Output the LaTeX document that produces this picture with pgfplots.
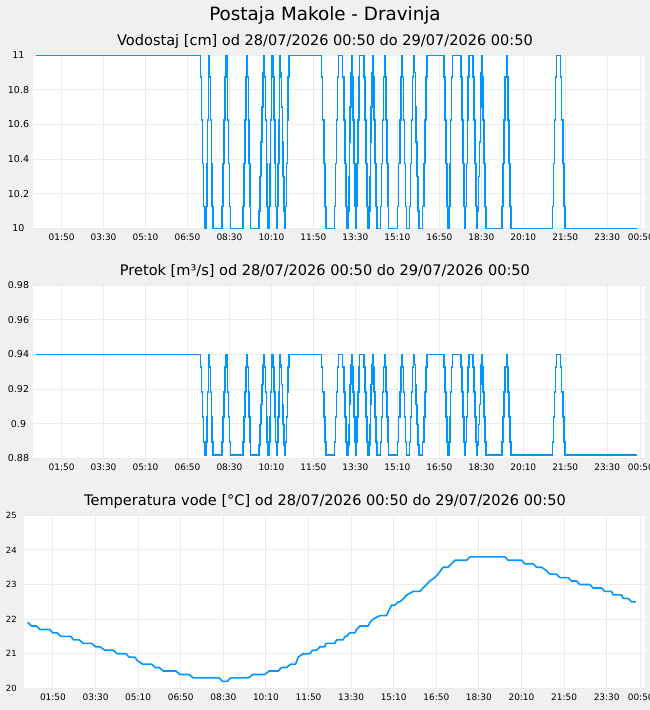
\documentclass[border=0pt]{standalone}
\usepackage{pgfplots}
\pgfplotsset{compat=1.18}
\usepackage{pgfplotstable}
\usepackage{fontspec}
\setmainfont{DejaVu Sans}
\definecolor{bgc}{RGB}{240,240,240}
\definecolor{gridc}{RGB}{235,235,235}
\definecolor{linec}{RGB}{0,150,255}

% time in minutes after 28/07/2026 00:50; h = Vodostaj [cm]; q = Pretok [m3/s]
\pgfplotstableread{
t h q
0 11 0.940
391.0 10.875 0.9328
393.6 10.625 0.9183
396.1 10.375 0.9038
398.7 10.125 0.8893
401.2 10 0.882
404.5 10.125 0.8893
406.3 10.375 0.9038
408.1 10.625 0.9183
409.8 10.875 0.9328
411.6 11 0.940
412.4 10.875 0.9328
414.6 10.625 0.9183
416.8 10.375 0.9038
419.0 10.125 0.8893
421.2 10 0.882
442.6 10.125 0.8893
445.0 10.375 0.9038
447.4 10.625 0.9183
449.7 10.875 0.9328
452.1 11 0.940
453.6 10.875 0.9328
455.8 10.625 0.9183
458.0 10.375 0.9038
460.2 10.125 0.8893
462.4 10 0.882
491.7 10.125 0.8893
494.3 10.375 0.9038
496.9 10.625 0.9183
499.6 10.875 0.9328
502.2 11 0.940
502.9 10.875 0.9328
504.9 10.625 0.9183
506.8 10.375 0.9038
508.8 10.125 0.8893
510.7 10 0.882
530.7 10.1 0.8878
532.9 10.3 0.8994
535.1 10.5 0.911
537.3 10.7 0.9226
539.5 10.9 0.9342
541.7 11 0.940
543.3 10.875 0.9328
545.5 10.625 0.9183
547.7 10.375 0.9038
549.9 10.125 0.8893
552.1 10 0.882
554.5 10.125 0.8893
556.3 10.375 0.9038
558.1 10.625 0.9183
559.9 10.875 0.9328
561.7 11 0.940
564.1 10.875 0.9328
566.1 10.625 0.9183
568.0 10.375 0.9038
570.0 10.125 0.8893
571.9 10 0.882
574.3 10.125 0.8893
575.9 10.375 0.9038
577.5 10.625 0.9183
579.1 10.875 0.9328
580.7 11 0.940
582.2 10.9 0.9342
584.1 10.7 0.9226
586.0 10.5 0.911
587.9 10.3 0.8994
589.8 10.1 0.8878
591.7 10 0.882
593.3 10.125 0.8893
595.5 10.375 0.9038
597.8 10.625 0.9183
600.0 10.875 0.9328
602.2 11 0.940
679.1 10.875 0.9328
681.9 10.625 0.9183
684.7 10.375 0.9038
687.5 10.125 0.8893
690.3 10 0.882
710.7 10.125 0.8893
713.1 10.375 0.9038
715.5 10.625 0.9183
717.9 10.875 0.9328
720.3 11 0.940
729.8 10.875 0.9328
732.4 10.625 0.9183
735.1 10.375 0.9038
737.7 10.125 0.8893
740.3 10 0.882
743.4 10.1 0.8878
744.8 10.3 0.8994
746.2 10.5 0.911
747.7 10.7 0.9226
749.1 10.9 0.9342
750.5 11 0.940
752.2 10.875 0.9328
754.6 10.625 0.9183
756.9 10.375 0.9038
759.3 10.125 0.8893
761.7 10 0.882
762.4 10.125 0.8893
764.4 10.375 0.9038
766.4 10.625 0.9183
768.3 10.875 0.9328
770.3 11 0.940
780.7 10.875 0.9328
783.1 10.625 0.9183
785.5 10.375 0.9038
787.8 10.125 0.8893
790.2 10 0.882
793.3 10.1 0.8878
794.7 10.3 0.8994
796.2 10.5 0.911
797.6 10.7 0.9226
799.1 10.9 0.9342
800.5 11 0.940
802.2 10.875 0.9328
804.6 10.625 0.9183
806.9 10.375 0.9038
809.3 10.125 0.8893
811.7 10 0.882
820.3 10.125 0.8893
822.7 10.375 0.9038
825.1 10.625 0.9183
827.4 10.875 0.9328
829.8 11 0.940
831.4 10.875 0.9328
833.4 10.625 0.9183
835.4 10.375 0.9038
837.3 10.125 0.8893
839.3 10 0.882
860.7 10.125 0.8893
863.3 10.375 0.9038
866.0 10.625 0.9183
868.6 10.875 0.9328
871.2 11 0.940
872.6 10.875 0.9328
874.8 10.625 0.9183
877.1 10.375 0.9038
879.3 10.125 0.8893
881.5 10 0.882
889.3 10.125 0.8893
891.5 10.375 0.9038
893.7 10.625 0.9183
895.9 10.875 0.9328
898.1 11 0.940
900.5 10.9 0.9342
902.7 10.7 0.9226
905.0 10.5 0.911
907.2 10.3 0.8994
909.5 10.1 0.8878
911.7 10 0.882
920.3 10.125 0.8893
922.9 10.375 0.9038
925.5 10.625 0.9183
928.1 10.875 0.9328
930.7 11 0.940
971.2 10.875 0.9328
973.6 10.625 0.9183
975.9 10.375 0.9038
978.3 10.125 0.8893
980.7 10 0.882
983.1 10.125 0.8893
985.1 10.375 0.9038
987.1 10.625 0.9183
989.0 10.875 0.9328
991.0 11 0.940
1011.7 10.875 0.9328
1013.9 10.625 0.9183
1016.0 10.375 0.9038
1018.2 10.125 0.8893
1020.3 10 0.882
1022.6 10.125 0.8893
1024.6 10.375 0.9038
1026.7 10.625 0.9183
1028.7 10.875 0.9328
1030.7 11 0.940
1040.3 10.875 0.9328
1042.7 10.625 0.9183
1045.1 10.375 0.9038
1047.4 10.125 0.8893
1049.8 10 0.882
1051.2 10.1 0.8878
1053.3 10.3 0.8994
1055.4 10.5 0.911
1057.5 10.7 0.9226
1059.6 10.9 0.9342
1061.7 11 0.940
1062.4 10.875 0.9328
1064.6 10.625 0.9183
1066.8 10.375 0.9038
1069.0 10.125 0.8893
1071.2 10 0.882
1109.3 10.125 0.8893
1111.9 10.375 0.9038
1114.5 10.625 0.9183
1117.0 10.875 0.9328
1119.6 11 0.940
1121.2 10.875 0.9328
1123.6 10.625 0.9183
1125.9 10.375 0.9038
1128.3 10.125 0.8893
1130.7 10 0.882
1229.8 10.125 0.8893
1232.2 10.375 0.9038
1234.6 10.625 0.9183
1236.9 10.875 0.9328
1239.3 11 0.940
1248.8 10.875 0.9328
1251.4 10.625 0.9183
1254.1 10.375 0.9038
1256.7 10.125 0.8893
1259.3 10 0.882
1430.7 10 0.882
}\lvl

% Temperatura vode [C]
\pgfplotstableread{
t T
0 21.9
1.5 21.9
9.9 21.8
21.6 21.8
29.3 21.7
52.8 21.7
59.2 21.6
70.0 21.6
78.6 21.5
101.4 21.5
109.2 21.4
121.6 21.4
131.0 21.3
150.7 21.3
160.1 21.2
170.2 21.2
181.9 21.1
201.4 21.1
210.8 21.0
231.2 21.0
239.0 20.9
252.3 20.9
258.2 20.8
270.4 20.7
291.5 20.7
299.3 20.6
309.4 20.6
318.8 20.5
348.6 20.5
357.9 20.4
379.8 20.4
389.2 20.3
450.2 20.3
458.2 20.2
469.0 20.2
477.0 20.3
518.3 20.3
530.0 20.4
557.5 20.4
567.6 20.5
588.7 20.5
596.7 20.6
608.4 20.6
618.5 20.7
629.6 20.7
635.7 20.9
647.4 21.0
663.1 21.0
669.5 21.1
678.9 21.1
686.6 21.2
698.3 21.2
700.7 21.3
721.8 21.3
725.8 21.4
741.3 21.4
745.3 21.5
749.3 21.5
757.0 21.6
768.8 21.6
772.8 21.7
780.5 21.8
800.0 21.8
804.0 21.9
811.7 22.0
827.5 22.1
843.2 22.1
846.9 22.2
850.9 22.3
854.9 22.4
862.7 22.4
870.4 22.5
874.4 22.5
883.8 22.6
890.8 22.7
905.6 22.8
921.3 22.8
929.1 22.9
937.0 23.0
944.8 23.1
956.5 23.2
964.3 23.3
976.0 23.5
987.8 23.5
995.8 23.6
1003.5 23.7
1031.0 23.7
1038.7 23.8
1120.9 23.8
1128.6 23.7
1160.1 23.7
1167.8 23.6
1187.3 23.6
1195.3 23.5
1207.0 23.5
1218.8 23.4
1226.5 23.3
1242.2 23.3
1250.0 23.2
1269.5 23.2
1277.5 23.1
1289.2 23.1
1297.0 23.0
1320.4 23.0
1328.2 22.9
1347.9 22.9
1355.6 22.8
1371.4 22.8
1375.1 22.7
1394.8 22.7
1398.6 22.6
1410.3 22.6
1418.3 22.5
1428.4 22.5
}\temp

\pgfplotsset{
  panel/.style={
    scale only axis, width=612bp, height=173bp,
    xmin=-8, xmax=1450,
    axis background/.style={fill=white},
    axis line style={draw=none},
    tick style={draw=none},
    grid=major,
    major grid style={draw=gridc, line width=1bp},
    xtick={60,160,260,360,460,560,660,760,860,960,1060,1160,1260,1360,1440},
    xticklabels={01:50,03:30,05:10,06:50,08:30,10:10,11:50,13:30,15:10,16:50,18:30,20:10,21:50,23:30,00:50},
    ticklabel style={font=\fontsize{9}{10}\selectfont, text=black},
    xticklabel style={anchor=center, yshift=-9.3bp},
    yticklabel style={anchor=center, xshift=-14.5bp, font=\fontsize{9.5}{10}\selectfont},
    clip=false,
  }
}

\begin{document}
\begin{tikzpicture}
\path[use as bounding box] (0,0) rectangle (650bp,710bp);
\fill[bgc] (0,0) rectangle (650bp,710bp);

\node[anchor=base, font=\fontsize{18.4}{20}\selectfont] at (325bp,689.5bp) {Postaja Makole - Dravinja};
\node[anchor=base, font=\fontsize{14.6}{16}\selectfont] at (325bp,664bp) {Vodostaj [cm] od 28/07/2026 00:50 do 29/07/2026 00:50};
\node[anchor=base, font=\fontsize{14.6}{16}\selectfont] at (325bp,434.5bp) {Pretok [m³/s] od 28/07/2026 00:50 do 29/07/2026 00:50};
\node[anchor=base, font=\fontsize{14.6}{16}\selectfont] at (325bp,204.5bp) {Temperatura vode [°C] od 28/07/2026 00:50 do 29/07/2026 00:50};

\begin{axis}[panel, at={(33bp,481.7bp)}, anchor=south west,
  ymin=10, ymax=11,
  ytick={10,10.2,10.4,10.6,10.8,11},
  yticklabels={10,10.2,10.4,10.6,10.8,11}]
\addplot[const plot, draw=linec, line width=1.5bp] table[x=t,y=h]{\lvl};
\end{axis}

\begin{axis}[panel, at={(33bp,251.7bp)}, anchor=south west,
  ymin=0.88, ymax=0.98,
  ytick={0.88,0.9,0.92,0.94,0.96,0.98},
  yticklabels={0.88,0.9,0.92,0.94,0.96,0.98}]
\addplot[const plot, draw=linec, line width=1.5bp] table[x=t,y=q]{\lvl};
\end{axis}

\begin{axis}[panel, width=621bp, at={(24bp,21.7bp)}, anchor=south west,
  ymin=20, ymax=25,
  ytick={20,21,22,23,24,25},
  yticklabels={20,21,22,23,24,25},
  yticklabel style={font=\fontsize{8.5}{10}\selectfont, xshift=1.8bp}]
\addplot[draw=linec, line width=1.6bp, line join=round] table[x=t,y=T]{\temp};
\end{axis}
\end{tikzpicture}
\end{document}
